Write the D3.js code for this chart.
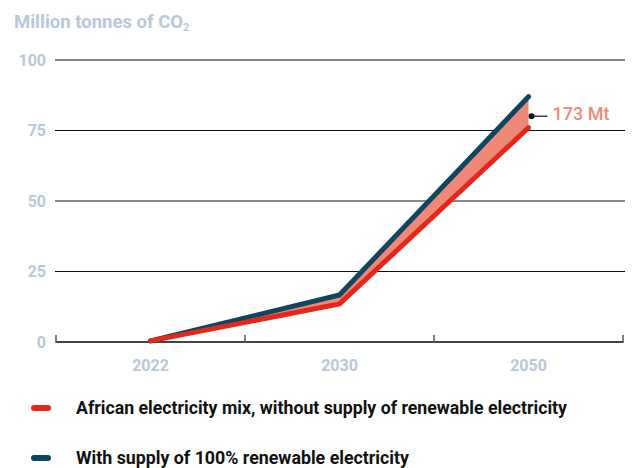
<!DOCTYPE html>
<html>
<head>
<meta charset="utf-8">
<script src="https://cdn.jsdelivr.net/npm/d3@7"></script>
<style>
  body { margin: 0; background: #fff; }
  svg text { font-family: "Liberation Sans Narrow", "Roboto", "Liberation Sans", sans-serif; }
</style>
</head>
<body>
<div id="chart"></div>
<script>
// data
let years = ["2022", "2030", "2050"];
let withoutRenewable = [0.4, 13.5, 76];
let withRenewable = [0.4, 16.7, 87];
let yTicks = [0, 25, 50, 75, 100];
let seriesNames = [
  "African electricity mix, without supply of renewable electricity",
  "With supply of 100% renewable electricity"
];
let gapLabel = "173 Mt";

function makeChart() {
  let svgWidth = 632;
  let svgHeight = 468;
  let margin = { top: 60, right: 9, bottom: 126, left: 56 };
  let width = svgWidth - margin.left - margin.right;
  let height = svgHeight - margin.top - margin.bottom;

  let red = "#e3271b";
  let navy = "#0d4661";
  let salmon = "#f08878";
  let labelGrey = "#b9c9d9";

  let svg = d3.select("#chart")
    .append("svg")
    .attr("width", svgWidth)
    .attr("height", svgHeight);

  let chart = svg.append("g")
    .attr("transform", `translate(${margin.left}, ${margin.top})`);

  let x = d3.scaleBand()
    .domain(years)
    .range([0, width]);

  let y = d3.scaleLinear()
    .domain([0, 100])
    .range([height, 0]);

  // gridlines
  chart.selectAll("line.grid")
    .data(yTicks.filter(d => d > 0))
    .enter()
    .append("line")
    .attr("class", "grid")
    .attr("x1", -1)
    .attr("x2", width + 2)
    .attr("y1", d => y(d))
    .attr("y2", d => y(d))
    .attr("stroke", "#111")
    .attr("stroke-width", 1);

  // y labels
  chart.selectAll("text.ylab")
    .data(yTicks)
    .enter()
    .append("text")
    .attr("class", "ylab")
    .attr("x", -10)
    .attr("y", d => y(d))
    .attr("dy", "0.36em")
    .attr("text-anchor", "end")
    .attr("font-size", "16px")
    .attr("font-weight", "bold")
    .attr("fill", labelGrey)
    .style("font-family", "Roboto, 'Liberation Sans', sans-serif")
    .text(d => d);

  svg.append("text")
    .attr("x", 14)
    .attr("y", 28)
    .attr("font-size", "18.5px")
    .attr("font-weight", "bold")
    .attr("fill", labelGrey)
    .style("font-family", "Roboto, 'Liberation Sans', sans-serif")
    .text("Million tonnes of CO")
    .append("tspan")
    .attr("font-size", "11px")
    .attr("dy", 3)
    .text("2");

  // x axis with inner ticks
  let xAxis = d3.axisBottom(x).tickSize(0).tickFormat("");
  let axisG = chart.append("g")
    .attr("transform", `translate(0, ${height})`)
    .call(xAxis);
  axisG.select(".domain").remove();
  axisG.append("line")
    .attr("x1", 0).attr("x2", width)
    .attr("stroke", "#444").attr("stroke-width", 2);
  let bounds = years.map(d => x(d)).concat([width]);
  axisG.selectAll("line.tk")
    .data(bounds)
    .enter()
    .append("line")
    .attr("class", "tk")
    .attr("x1", d => d).attr("x2", d => d)
    .attr("y1", 1).attr("y2", -7)
    .attr("stroke", "#555").attr("stroke-width", 1.5);

  chart.selectAll("text.xlab")
    .data(years)
    .enter()
    .append("text")
    .attr("class", "xlab")
    .attr("x", d => x(d) + x.bandwidth() / 2)
    .attr("y", height + 29)
    .attr("text-anchor", "middle")
    .attr("font-size", "16px")
    .attr("font-weight", "bold")
    .attr("fill", labelGrey)
    .style("font-family", "Roboto, 'Liberation Sans', sans-serif")
    .text(d => d);

  let cx = d => x(d) + x.bandwidth() / 2;

  // gap area
  let area = d3.area()
    .x((d, i) => cx(years[i]))
    .y0((d, i) => y(withoutRenewable[i]))
    .y1(d => y(d));
  chart.append("path")
    .datum(withRenewable)
    .attr("d", area)
    .attr("fill", salmon);

  let line = d3.line()
    .x((d, i) => cx(years[i]))
    .y(d => y(d));

  chart.append("path")
    .datum(withRenewable)
    .attr("d", line)
    .attr("fill", "none")
    .attr("stroke", navy)
    .attr("stroke-width", 5)
    .attr("stroke-linecap", "round")
    .attr("stroke-linejoin", "miter");

  chart.append("path")
    .datum(withoutRenewable)
    .attr("d", line)
    .attr("fill", "none")
    .attr("stroke", red)
    .attr("stroke-width", 5)
    .attr("stroke-linecap", "round")
    .attr("stroke-linejoin", "miter");

  // annotation
  let last = years.length - 1;
  let ax = cx(years[last]) + 3;
  let ay = y((withRenewable[last] + withoutRenewable[last]) / 2) + 4;
  chart.append("line")
    .attr("x1", ax).attr("x2", ax + 16)
    .attr("y1", ay).attr("y2", ay)
    .attr("stroke", "#111").attr("stroke-width", 1.2);
  chart.append("circle")
    .attr("cx", ax).attr("cy", ay).attr("r", 3)
    .attr("fill", "#111");
  chart.append("text")
    .attr("x", ax + 21)
    .attr("y", ay - 3)
    .attr("dy", "0.36em")
    .attr("font-size", "18px")
    .attr("fill", salmon)
    .style("font-family", "Roboto, 'Liberation Sans', sans-serif")
    .style("font-weight", 500)
    .text(gapLabel);

  // legend
  let legendColors = [red, navy];
  let legendWidths = [491, 333];
  let legend = svg.selectAll("g.legend")
    .data(seriesNames)
    .enter()
    .append("g")
    .attr("class", "legend")
    .attr("transform", (d, i) => `translate(0, ${408 + i * 50})`);
  legend.append("line")
    .attr("x1", 34).attr("x2", 48)
    .attr("stroke", (d, i) => legendColors[i])
    .attr("stroke-width", 6)
    .attr("stroke-linecap", "round");
  legend.append("text")
    .attr("x", 76)
    .attr("dy", "0.36em")
    .attr("font-size", "18px")
    .attr("font-weight", "bold")
    .attr("fill", "#111")
    .attr("textLength", (d, i) => legendWidths[i])
    .attr("lengthAdjust", "spacingAndGlyphs")
    .text(d => d);
}

makeChart();
</script>
</body>
</html>
